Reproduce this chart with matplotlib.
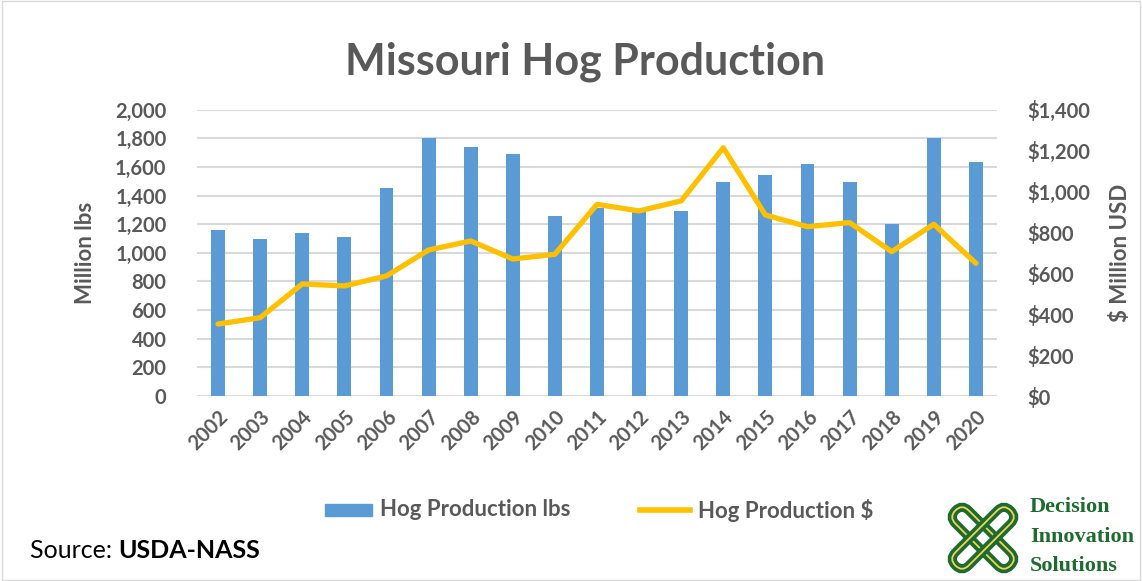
import numpy as np
import matplotlib
matplotlib.use("Agg")
import matplotlib.pyplot as plt
from matplotlib.patches import Rectangle, FancyBboxPatch
from matplotlib.lines import Line2D
import matplotlib.transforms as mtransforms

plt.rcParams['font.family'] = ['Lato', 'DejaVu Sans']

years = [str(y) for y in range(2002, 2021)]
hog_lbs = [1157, 1095, 1141, 1113, 1455, 1800, 1737, 1690, 1255, 1310,
           1288, 1295, 1493, 1546, 1618, 1493, 1204, 1800, 1637]
hog_usd = [352, 383, 548, 538, 587, 714, 758, 670, 693, 937,
           905, 954, 1214, 885, 828, 848, 706, 840, 649]

GRAY = '#595959'
BLUE = '#5b9bd5'
GOLD = '#ffc000'
GREEN = '#1e6b2e'

fig = plt.figure(figsize=(11.42, 5.81), dpi=100)
ax = fig.add_axes([0.1725, 0.3184, 0.7005, 0.4928])
ax2 = ax.twinx()

x = np.arange(len(years))
ax.bar(x, hog_lbs, width=0.33, color=BLUE, zorder=2)
ax2.plot(x, hog_usd, color=GOLD, lw=3.8, solid_joinstyle='round',
         solid_capstyle='round', zorder=3)

ax.set_xlim(-0.5, len(years) - 0.5)
ax.set_ylim(0, 2000)
ax2.set_ylim(0, 1400)
ax.set_yticks(range(0, 2001, 200))
ax2.set_yticks(range(0, 1401, 200))
ax.set_yticklabels([f'{v:,}' for v in range(0, 2001, 200)])
ax2.set_yticklabels([f'${v:,}' for v in range(0, 1401, 200)])
ax.set_xticks(x)
ax.set_xticklabels(years, rotation=45, ha='right', rotation_mode='anchor')

ax.grid(axis='y', color='#d9d9d9', lw=1.5, zorder=0)
ax.set_axisbelow(True)
for a in (ax, ax2):
    for s in a.spines.values():
        s.set_visible(False)
    a.tick_params(length=0, labelsize=14.5, labelcolor=GRAY)
ax.tick_params(axis='y', pad=22)
ax2.tick_params(axis='y', pad=22)
ax.tick_params(axis='x', pad=8)
for lab in ax.get_xticklabels() + ax.get_yticklabels() + ax2.get_yticklabels():
    lab.set_fontweight('bold')

ax.set_ylabel('Million lbs', fontsize=16, color=GRAY, fontweight='bold', labelpad=14)
ax2.set_ylabel('$ Million USD', fontsize=16, color=GRAY, fontweight='bold', labelpad=14)

fig.text(0.512, 0.893, 'Missouri Hog Production', ha='center', va='center',
         fontsize=31, fontweight='bold', color=GRAY)

# legend
fig.add_artist(Rectangle((325 / 1142, 1 - 516 / 581), 47 / 1142, 12 / 581,
                         transform=fig.transFigure, color=BLUE))
fig.text(380 / 1142, 1 - 510 / 581, 'Hog Production lbs', va='center',
         fontsize=16, fontweight='bold', color=GRAY)
fig.add_artist(Line2D([640 / 1142, 690 / 1142], [1 - 510 / 581] * 2,
                      transform=fig.transFigure, color=GOLD, lw=4))
fig.text(698 / 1142, 1 - 510 / 581, 'Hog Production $', va='center',
         fontsize=16, fontweight='bold', color=GRAY)

# source
t = fig.text(30 / 1142, 1 - 551 / 581, 'Source: ', va='center', fontsize=18, color='black')
fig.canvas.draw()
bb = t.get_window_extent()
fig.text(bb.x1 / fig.bbox.width, 1 - 551 / 581, 'USDA-NASS', va='center',
         fontsize=18, fontweight='bold', color='black')

# logo
lax = fig.add_axes([944 / 1142, 1 - 578 / 581, 78 / 1142, 80 / 581])
lax.set_xlim(0, 1)
lax.set_ylim(0, 1)
lax.set_aspect('equal')
lax.axis('off')
for ang in (45, -45):
    tr = mtransforms.Affine2D().rotate_deg_around(0.5, 0.5, ang) + lax.transData
    box = dict(boxstyle='round,pad=0,rounding_size=0.12')
    lax.add_patch(FancyBboxPatch((0.38, 0.0), 0.24, 1.0, fc='none', ec=GREEN,
                                 lw=6.5, transform=tr, clip_on=False, **box))
    lax.add_patch(FancyBboxPatch((0.38, 0.0), 0.24, 1.0, fc='none', ec='#f0d35a',
                                 lw=1.3, transform=tr, clip_on=False, **box))
for i, word in enumerate(['Decision', 'Innovation', 'Solutions']):
    fig.text(1030 / 1142, 1 - (507 + i * 29.5) / 581, word, va='center',
             fontsize=16, fontweight='bold', color=GREEN,
             family='Liberation Serif')

fig.add_artist(Rectangle((0.002, 0.002), 0.996, 0.996, transform=fig.transFigure,
                         fill=False, ec='#d9d9d9', lw=1))

fig.savefig('out.png', dpi=100)
